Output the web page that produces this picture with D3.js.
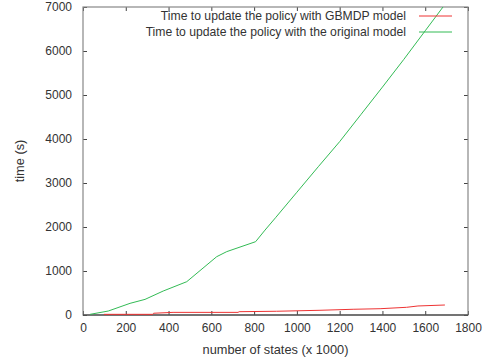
<!DOCTYPE html>
<html>
<head>
<meta charset="utf-8">
<script src="https://cdn.jsdelivr.net/npm/d3@7"></script>
<style>
  body { margin: 0; background: #fff; }
  text { font-family: "Liberation Sans", Arial, sans-serif; fill: #333; }
</style>
</head>
<body>
<svg id="chart" width="486" height="362"></svg>
<script>
// values
var gbmdpStates = [98, 326, 330, 421, 725, 730, 905, 1108, 1263, 1389, 1513, 1566, 1692];
var gbmdpTime   = [15, 15, 40, 60, 60, 75, 85, 107, 130, 143, 175, 205, 227];

var origStates = [33, 118, 220, 290, 375, 485, 625, 672, 807, 851, 900, 1000, 1100, 1200, 1300, 1400, 1500, 1600, 1700];
var origTime   = [15, 90, 265, 355, 545, 757, 1325, 1440, 1666, 1930, 2210, 2790, 3370, 3940, 4560, 5180, 5810, 6460, 7110];

var xTicks = [0, 200, 400, 600, 800, 1000, 1200, 1400, 1600, 1800];
var yTicks = [0, 1000, 2000, 3000, 4000, 5000, 6000, 7000];

var seriesNames = ["Time to update the policy with GBMDP model",
                   "Time to update the policy with the original model"];
var seriesColors = ["#ee3333", "#33bb55"];

var svg = d3.select("#chart"),
    MARGINS = { top: 7, right: 18, bottom: 47, left: 83 },
    WIDTH = 486, HEIGHT = 362;

var xScale = d3.scaleLinear().domain([0, 1800]).range([MARGINS.left, WIDTH - MARGINS.right]);
var yScale = d3.scaleLinear().domain([0, 7000]).range([HEIGHT - MARGINS.bottom, MARGINS.top]);

svg.append("clipPath").attr("id", "clip")
  .append("rect")
  .attr("x", MARGINS.left).attr("y", MARGINS.top)
  .attr("width", xScale(1800) - xScale(0))
  .attr("height", yScale(0) - yScale(7000));

// ticks (inward, mirrored)
var tickLen = 4;
var xAxisB = d3.axisBottom(xScale).tickValues(xTicks).tickFormat(d3.format("d")).tickSizeInner(-tickLen).tickSizeOuter(0).tickPadding(8);
var xAxisT = d3.axisTop(xScale).tickValues(xTicks).tickSizeInner(-tickLen).tickSizeOuter(0).tickFormat("");
var yAxisL = d3.axisLeft(yScale).tickValues(yTicks).tickFormat(d3.format("d")).tickSizeInner(-tickLen).tickSizeOuter(0).tickPadding(11);
var yAxisR = d3.axisRight(yScale).tickValues(yTicks).tickSizeInner(-tickLen).tickSizeOuter(0).tickFormat("");

function styleAxis(g) {
  g.select(".domain").remove();
  g.selectAll(".tick line").attr("stroke", "#444");
  g.selectAll(".tick text").attr("font-size", 12).attr("fill", "#333")
    .attr("font-family", "Liberation Sans, Arial, sans-serif");
}

svg.append("g").attr("transform", "translate(0," + yScale(0) + ")").call(xAxisB).call(styleAxis);
svg.append("g").attr("transform", "translate(0," + yScale(7000) + ")").call(xAxisT).call(styleAxis);
svg.append("g").attr("transform", "translate(" + xScale(0) + ",0)").call(yAxisL).call(styleAxis);
svg.append("g").attr("transform", "translate(" + xScale(1800) + ",0)").call(yAxisR).call(styleAxis);

// border
svg.append("rect")
  .attr("x", xScale(0)).attr("y", yScale(7000))
  .attr("width", xScale(1800) - xScale(0))
  .attr("height", yScale(0) - yScale(7000))
  .attr("fill", "none").attr("stroke", "#888").attr("stroke-width", 1.2);
svg.append("line")
  .attr("x1", xScale(0)).attr("x2", xScale(1800))
  .attr("y1", yScale(0)).attr("y2", yScale(0))
  .attr("stroke", "#333").attr("stroke-width", 1.2);

var lineGen = d3.line()
  .x(function(d) { return xScale(d[0]); })
  .y(function(d) { return yScale(d[1]); });

var series = [
  d3.zip(gbmdpStates, gbmdpTime),
  d3.zip(origStates, origTime)
];

series.forEach(function(s, i) {
  svg.append("path")
    .attr("d", lineGen(s))
    .attr("clip-path", "url(#clip)")
    .attr("fill", "none")
    .attr("stroke", seriesColors[i])
    .attr("stroke-width", 1);
});

// legend
seriesNames.forEach(function(name, i) {
  var y = 16 + i * 16;
  svg.append("text")
    .attr("x", 406).attr("y", y).attr("dy", "0.35em")
    .attr("text-anchor", "end").attr("font-size", 12.2)
    .text(name);
  svg.append("line")
    .attr("x1", 419).attr("x2", 452).attr("y1", y).attr("y2", y)
    .attr("stroke", seriesColors[i]).attr("stroke-width", 1);
});

// axis titles
svg.append("text")
  .attr("transform", "translate(24," + ((yScale(0) + yScale(7000)) / 2) + ") rotate(-90)")
  .attr("text-anchor", "middle").attr("font-size", 12.8)
  .text("time (s)");
svg.append("text")
  .attr("x", (xScale(0) + xScale(1800)) / 2).attr("y", 354)
  .attr("text-anchor", "middle").attr("font-size", 12.8)
  .text("number of states (x 1000)");
</script>
</body>
</html>
